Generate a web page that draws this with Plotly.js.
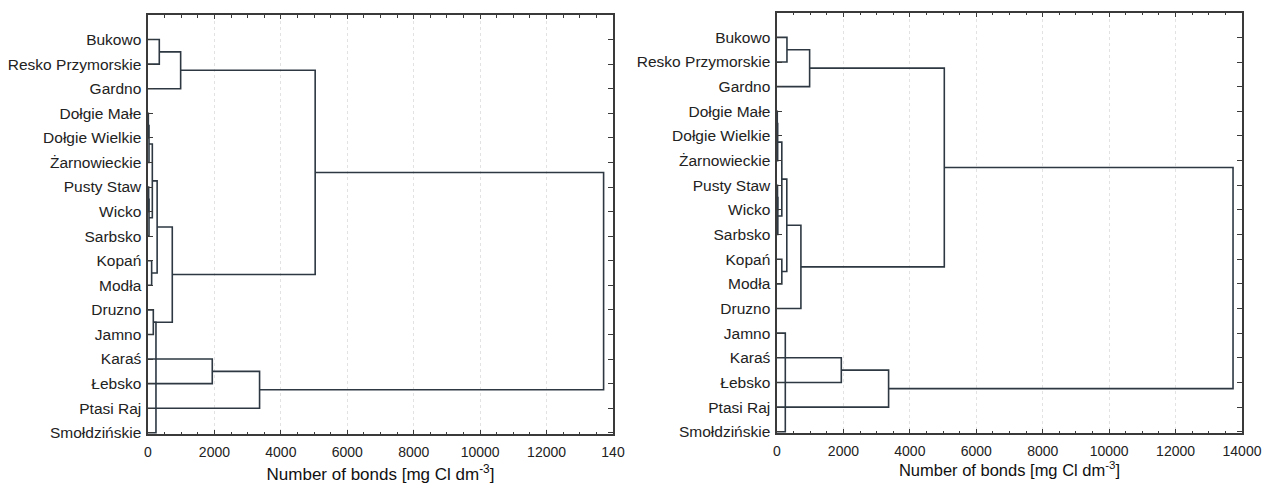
<!DOCTYPE html>
<html>
<head>
<meta charset="utf-8">
<script src="https://cdn.plot.ly/plotly-3.0.1.min.js"></script>
<style>html,body{margin:0;padding:0;background:#fff;}#chart{width:1271px;height:484px;}</style>
</head>
<body>
<div id="chart"></div>
<script>
// Leaves (top to bottom), same order in both panels
const leaves = ['Bukowo','Resko Przymorskie','Gardno','Dołgie Małe','Dołgie Wielkie','Żarnowieckie','Pusty Staw','Wicko','Sarbsko','Kopań','Modła','Druzno','Jamno','Karaś','Łebsko','Ptasi Raj','Smołdzińskie'];

// Left panel merges: child A, child B, linkage distance (mN = result of merge N)
const leftA = ['Dołgie Małe','m0','Pusty Staw','m2','m1','Kopań','m4','Druzno','m6','Bukowo','m9','m10','Karaś','m12','m11','m7'];
const leftB = ['Dołgie Wielkie','Żarnowieckie','Wicko','Sarbsko','m3','Modła','m5','Jamno','m7','Resko Przymorskie','Gardno','m8','Łebsko','Ptasi Raj','m13','Smołdzińskie'];
const leftH = [10, 30, 20, 30, 130, 110, 275, 160, 731, 340, 983, 5033, 1935, 3359, 13717, 240];

// Right panel merges
const rightA = ['Dołgie Małe','m0','Pusty Staw','m2','m1','Kopań','m4','m6','Bukowo','m8','m9','Karaś','m11','m10','Jamno'];
const rightB = ['Dołgie Wielkie','Żarnowieckie','Wicko','Sarbsko','m3','Modła','m5','Druzno','Resko Przymorskie','Gardno','m7','Łebsko','Ptasi Raj','m12','Smołdzińskie'];
const rightH = [8, 20, 15, 25, 145, 145, 295, 720, 300, 982, 5037, 1936, 3360, 13730, 250];

const xTicks = [0, 2000, 4000, 6000, 8000, 10000, 12000, 14000];
const leftXTickText = ['0','2000','4000','6000','8000','10000','12000','140'];
const rightXTickText = ['0','2000','4000','6000','8000','10000','12000','14000'];
const xTitle = 'Number of bonds [mg Cl dm<sup>-3</sup>]';

function segments(A, B, H) {
  const pos = {}, ht = {};
  leaves.forEach((n, i) => { pos[n] = i; ht[n] = 0; });
  const x = [], y = [];
  for (let k = 0; k < A.length; k++) {
    const a = A[k], b = B[k], h = H[k];
    x.push(ht[a], h, h, ht[b], null);
    y.push(pos[a], pos[a], pos[b], pos[b], null);
    pos['m' + k] = (pos[a] + pos[b]) / 2;
    ht['m' + k] = h;
  }
  return {x, y};
}

const L = segments(leftA, leftB, leftH);
const R = segments(rightA, rightB, rightH);
const lineStyle = {color: '#2d3842', width: 1.6};

const traces = [
  {x: L.x, y: L.y, xaxis: 'x', yaxis: 'y', mode: 'lines', line: lineStyle, hoverinfo: 'skip', showlegend: false},
  {x: R.x, y: R.y, xaxis: 'x2', yaxis: 'y2', mode: 'lines', line: lineStyle, hoverinfo: 'skip', showlegend: false}
];

const FONT = 'Liberation Sans, Arial, sans-serif';
const W = 1271, Hh = 484;
function xax(domain, ticktext, titleSize, standoff) {
  return {
    domain: domain, range: [0, 14000], tickmode: 'array', tickvals: xTicks, ticktext: ticktext,
    showgrid: true, gridcolor: '#e2e2e2', griddash: 'dot', gridwidth: 1,
    showline: true, linecolor: '#3a3a3a', linewidth: 1.6, mirror: 'ticks',
    ticks: 'inside', ticklen: 4, tickcolor: '#3a3a3a', tickwidth: 1, ticklabelstandoff: 5,
    minor: {dtick: 500, ticks: 'inside', ticklen: 2.5, tickcolor: '#3a3a3a', showgrid: false},
    zeroline: false, fixedrange: true,
    tickfont: {family: FONT, size: 14, color: '#222'},
    title: {text: xTitle, standoff: standoff, font: {family: FONT, size: titleSize, color: '#111'}}
  };
}
function yax(domain, anchor) {
  return {
    domain: domain, range: [16.05, -1], tickmode: 'array', tickvals: leaves.map((_, i) => i), ticktext: leaves,
    showgrid: false, zeroline: false, showline: true, linecolor: '#3a3a3a', linewidth: 1.6, mirror: 'ticks',
    ticks: 'inside', ticklen: 5, tickcolor: '#3a3a3a', tickwidth: 1, ticklabelstandoff: 2,
    anchor: anchor, fixedrange: true,
    tickfont: {family: FONT, size: 15.5, color: '#222'}
  };
}

const layout = {
  width: W, height: Hh, autosize: false,
  margin: {l: 0, r: 0, t: 0, b: 0},
  paper_bgcolor: '#fff', plot_bgcolor: '#fff',
  xaxis: Object.assign(xax([148 / W, 613 / W], leftXTickText, 17, 10), {anchor: 'y'}),
  yaxis: yax([1 - 434 / Hh, 1 - 15 / Hh], 'x'),
  xaxis2: Object.assign(xax([777 / W, 1242 / W], rightXTickText, 16.5, 5), {anchor: 'y2'}),
  yaxis2: yax([1 - 433 / Hh, 1 - 12.7 / Hh], 'x2')
};

Plotly.newPlot('chart', traces, layout, {staticPlot: true, displayModeBar: false});
</script>
</body>
</html>
